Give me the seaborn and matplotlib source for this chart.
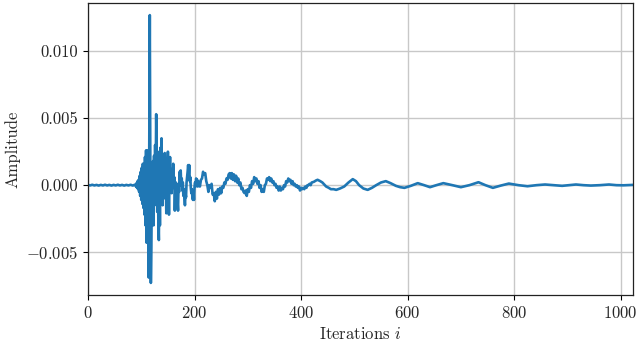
import matplotlib
matplotlib.use("Agg")
import matplotlib.pyplot as plt
import seaborn as sns
import pandas as pd

# ---- data ----
quiet_iter = [0, 4, 8, 12, 16, 20, 24, 28, 32, 36, 40, 44, 48, 52, 56, 60, 64, 68, 72, 76, 80, 84, 88]
quiet_amp = [0.00002, -0.00002, 0.00003, -0.00002, 0.00002, -0.00003, 0.00002, -0.00002, 0.00003,
             -0.00002, 0.00002, -0.00003, 0.00002, -0.00002, 0.00003, -0.00002, 0.00002, -0.00003,
             0.00002, -0.00002, 0.00003, -0.00003, 0.00004]

burst_iter = list(range(89, 211))
burst_amp = [
    0.00005, -0.0001, 0.00015, -0.0002, 0.0003, -0.0003, 0.0004, -0.0005, 0.0007, -0.0008,   # 89-98
    0.0010, -0.0011, 0.0013, -0.0014, 0.0016, -0.0017, 0.0015, -0.0022, 0.0021, -0.0030,    # 99-108
    0.0026, -0.0043, 0.0026, -0.0038, 0.0005, -0.0069, 0.0040, 0.0127, 0.0015, -0.0073,     # 109-118
    -0.0045, 0.0012, -0.0028, 0.0018, -0.0030, 0.0022, -0.0015, 0.0030, 0.0000, 0.0053,     # 119-128
    0.0015, -0.0020, 0.0025, -0.0025, -0.0041, 0.0012, -0.0030, 0.0028, -0.0008, 0.0035,    # 129-138
    0.0005, -0.0015, 0.0012, -0.0010, 0.0018, 0.0024, -0.0005, 0.0008, -0.0021, -0.0010,    # 139-148
    0.0012, 0.0025, 0.0002, -0.0022, 0.0005, 0.0021, 0.0000, 0.0012, -0.0006, 0.0010,       # 149-158
    0.0004, 0.0016, -0.0002, 0.0006, -0.0019, -0.0004, 0.0002, -0.0008, -0.0002, -0.0012,   # 159-168
    -0.0019, 0.0001, -0.0005, 0.0010, 0.0004, 0.0011, 0.0000, 0.0005, -0.0004, 0.0002,      # 169-178
    -0.0008, -0.0003, -0.0010, -0.0015, -0.0006, -0.0009, 0.0002, 0.0006, 0.0010, 0.0015,   # 179-188
    0.0008, 0.0015, 0.0003, 0.0006, -0.0002, -0.0006, -0.0003, -0.0009, -0.0011, -0.0004,   # 189-198
    -0.0011, -0.0001, 0.0002, -0.0001, 0.0005, 0.0002, 0.0004, -0.0001, 0.0003, 0.0000,     # 199-208
    0.0002, -0.0001,                                                                         # 209-210
]

ring_iter = list(range(212, 421, 2))
ring_amp = [
    0.0004, 0.0005, 0.0010, 0.0008, 0.0009, 0.0003, 0.0000, -0.0005, 0.0000, -0.0002,       # 212-230
    0.0001, -0.0007, -0.0006, -0.0012, -0.0005, -0.0010, -0.0003, -0.0007, -0.0002, -0.0006, # 232-250
    -0.0001, -0.0002, 0.0002, 0.0001, 0.0005, 0.0004, 0.0008, 0.0009, 0.0005, 0.0009,       # 252-270
    0.0004, 0.0008, 0.0003, 0.0007, 0.0002, 0.0005, 0.0000, 0.0002, -0.0003, -0.0002,       # 272-290
    -0.0005, -0.0006, -0.0004, -0.0008, -0.0003, -0.0005, 0.0000, -0.0002, 0.0003, 0.0001,  # 292-310
    0.0006, 0.0003, 0.0005, 0.0001, 0.0003, -0.0002, 0.0000, -0.0005, -0.0003, -0.0005,     # 312-330
    0.0000, 0.0001, 0.0005, 0.0004, 0.0006, 0.0003, 0.0005, 0.0002, 0.0003, 0.0000,         # 332-350
    0.0001, -0.0002, -0.0001, -0.0004, -0.0001, -0.0004, -0.0002, -0.0003, 0.0000, -0.0001, # 352-370
    0.0003, 0.0002, 0.0005, 0.0003, 0.0004, 0.0001, 0.0003, 0.0000, 0.0001, -0.0001,        # 372-390
    0.0000, -0.0002, -0.0001, -0.0004, -0.0002, -0.0003, -0.0002, -0.0003, -0.0001, -0.0002, # 392-410
    0.0000, 0.0000, 0.0001, 0.0000, 0.0002,                                                  # 412-420
]

tail_iter = [424, 428, 431, 436, 440, 447, 452, 456, 461, 466, 473, 481, 489, 497, 503, 509,
             517, 525, 533, 541, 550, 559, 568, 578, 586, 594, 606, 619, 631, 642, 654, 667,
             684, 700, 716, 733, 746, 760, 775, 790, 808, 825, 842, 858, 874, 890, 903, 916,
             930, 944, 961, 978, 992, 1005, 1023]
tail_amp = [0.00025, 0.00035, 0.0004, 0.0003, 0.0002, -0.0001, -0.0002, -0.0003, -0.0003, -0.00035,
            -0.00025, -0.0001, 0.0002, 0.00045, 0.0003, 0.0, -0.00025, -0.00035, -0.0002, 0.0,
            0.0002, 0.0003, 0.00015, -0.00005, -0.00015, -0.0002, -0.00005, 0.00015, 0.0, -0.00015,
            0.0, 0.00015, 0.0, -0.00015, 0.0, 0.00022, 0.0, -0.0002, -0.00003, 0.00012,
            0.0, -0.00008, 0.0, 0.00005, 0.0, -0.00005, 0.0, 0.00005, 0.0, -0.00003,
            0.0, 0.00005, 0.0, -0.00001, 0.00002]

x_ticks = [0, 200, 400, 600, 800, 1000]
y_ticks = [-0.005, 0.0, 0.005, 0.010]

iterations = quiet_iter + burst_iter + ring_iter + tail_iter
amplitude = quiet_amp + burst_amp + ring_amp + tail_amp
df = pd.DataFrame({"Iterations": iterations, "Amplitude": amplitude})

# ---- style ----
sns.set_theme(style="ticks")
plt.rcParams.update({
    "font.family": "serif",
    "font.serif": ["cmr10", "DejaVu Serif"],
    "mathtext.fontset": "cm",
    "axes.formatter.use_mathtext": True,
    "axes.unicode_minus": True,
    "font.size": 12,
    "axes.labelsize": 12,
    "xtick.labelsize": 12,
    "ytick.labelsize": 12,
})

fig = plt.figure(figsize=(6.4, 3.41), dpi=100)
ax = fig.add_axes([0.1375, 0.135, 0.8515, 0.856])

sns.lineplot(data=df, x="Iterations", y="Amplitude", ax=ax, color="#1f77b4",
             linewidth=1.9, estimator=None, sort=False)

ax.set_xlim(0, 1023)
ax.set_ylim(-0.0082, 0.0136)
ax.set_xticks(x_ticks)
ax.set_yticks(y_ticks)
ax.set_yticklabels(["$-0.005$", "0.000", "0.005", "0.010"])
ax.set_xlabel("Iterations $i$")
ax.set_ylabel("Amplitude")
ax.set_axisbelow(True)
ax.grid(True, color="#c8c8c8", linewidth=1.0)
for s in ax.spines.values():
    s.set_visible(True)
    s.set_color("#222222")
    s.set_linewidth(0.9)
ax.tick_params(axis="both", direction="out", length=3.5, width=0.8, color="black")

fig.savefig("out.png", dpi=100)
